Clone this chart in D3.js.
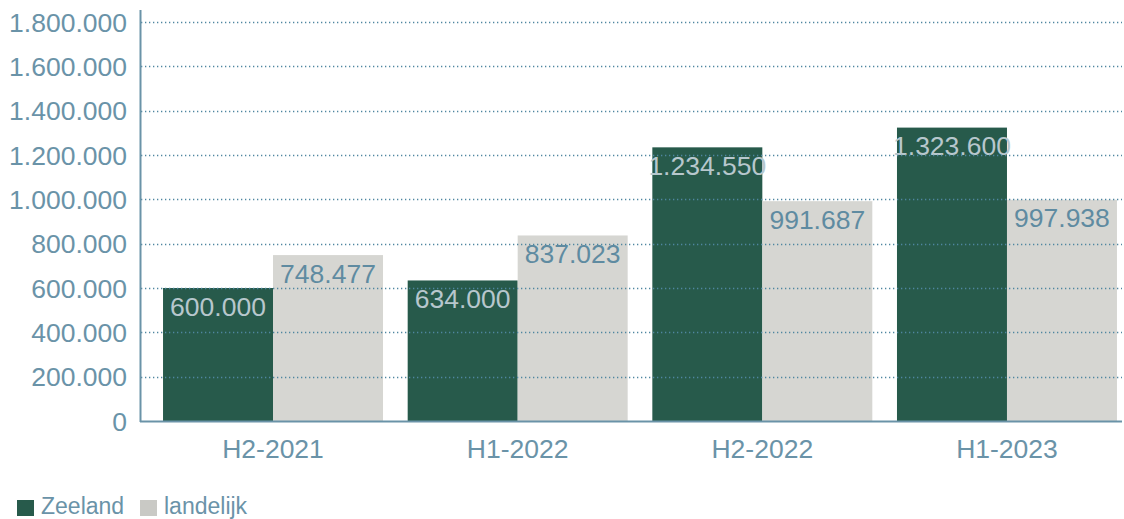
<!DOCTYPE html>
<html>
<head>
<meta charset="utf-8">
<script src="https://cdn.jsdelivr.net/npm/d3@7"></script>
<style>
  body { margin: 0; background: #fff; }
  svg { display: block; font-family: "Liberation Sans", Arial, Helvetica, sans-serif; }
</style>
</head>
<body>
<svg id="chart" width="1124" height="519"></svg>
<script>
// Data
const categories = ['H2-2021', 'H1-2022', 'H2-2022', 'H1-2023'];
const seriesNames = ['Zeeland', 'landelijk'];
const zeeland = [600000, 634000, 1234550, 1323600];
const landelijk = [748477, 837023, 991687, 997938];
const yTicks = [0, 200000, 400000, 600000, 800000, 1000000, 1200000, 1400000, 1600000, 1800000];

/**
 * Visual configs.
 */
const colors = { Zeeland: '#275a4b', landelijk: '#d6d6d2' },
    legendColors = { Zeeland: '#275a4b', landelijk: '#c9c9c5' },
    labelColors = { Zeeland: '#b7c7cd', landelijk: '#5f8ba1' },
    axisColor = '#6a93a8';

const svg = d3.select('#chart');
const plotLeft = 140, plotRight = 1122, plotTop = 22, plotBottom = 421;

const fmt = d3.formatLocale({ decimal: ',', thousands: '.', grouping: [3], currency: ['€', ''] }).format(',d');

const x0 = d3.scaleBand().domain(categories).range([150.7, 1129.3])
        .paddingInner(0.1008).paddingOuter(0.0504),
    x1 = d3.scaleBand().domain(seriesNames).range([0, x0.bandwidth()]),
    y = d3.scaleLinear().domain([0, 1800000]).range([plotBottom, plotTop]);

const rows = categories.map((c, i) => ({ cat: c, values: [
    { key: 'Zeeland', value: zeeland[i] },
    { key: 'landelijk', value: landelijk[i] }
] }));

// Bars
const groups = svg.append('g').selectAll('g').data(rows).join('g')
    .attr('transform', d => 'translate(' + x0(d.cat) + ',0)');

groups.selectAll('rect').data(d => d.values).join('rect')
    .attr('x', d => x1(d.key))
    .attr('y', d => y(d.value))
    .attr('width', x1.bandwidth())
    .attr('height', d => plotBottom - y(d.value))
    .attr('fill', d => colors[d.key]);

// Gridlines (drawn over the bars)
svg.append('g').selectAll('line').data(yTicks.filter(t => t > 0)).join('line')
    .attr('x1', plotLeft + 1).attr('x2', plotRight)
    .attr('y1', d => Math.round(y(d)) + 0.5).attr('y2', d => Math.round(y(d)) + 0.5)
    .attr('stroke', '#4f86a0')
    .attr('stroke-width', 1.3)
    .attr('stroke-dasharray', '1.3,2.7');

// Value labels
groups.selectAll('text').data(d => d.values).join('text')
    .attr('x', d => x1(d.key) + x1.bandwidth() / 2)
    .attr('y', d => y(d.value) + 27.5)
    .attr('text-anchor', 'middle')
    .attr('font-size', 26.5)
    .attr('fill', d => labelColors[d.key])
    .text(d => fmt(d.value));

// Axes
svg.append('line')
    .attr('x1', plotLeft + 0.5).attr('x2', plotLeft + 0.5)
    .attr('y1', 10).attr('y2', plotBottom + 1)
    .attr('stroke', axisColor).attr('stroke-width', 2);
svg.append('line')
    .attr('x1', plotLeft).attr('x2', plotRight)
    .attr('y1', plotBottom + 0.5).attr('y2', plotBottom + 0.5)
    .attr('stroke', axisColor).attr('stroke-width', 2);

svg.append('g').selectAll('text').data(yTicks).join('text')
    .attr('x', 127)
    .attr('y', d => y(d) + 9.5)
    .attr('text-anchor', 'end')
    .attr('font-size', 26.5)
    .attr('fill', axisColor)
    .text(d => fmt(d));

svg.append('g').selectAll('text').data(categories).join('text')
    .attr('x', d => x0(d) + x0.bandwidth() / 2)
    .attr('y', 458)
    .attr('text-anchor', 'middle')
    .attr('font-size', 26.5)
    .attr('fill', axisColor)
    .text(d => d);

// Legend
const legendX = [17, 140];
const legend = svg.append('g').selectAll('g').data(seriesNames).join('g')
    .attr('transform', (d, i) => 'translate(' + legendX[i] + ',500)');
legend.append('rect')
    .attr('width', 17).attr('height', 16)
    .attr('fill', d => legendColors[d]);
legend.append('text')
    .attr('x', 24).attr('y', 14)
    .attr('font-size', 23)
    .attr('fill', axisColor)
    .text(d => d);
</script>
</body>
</html>
